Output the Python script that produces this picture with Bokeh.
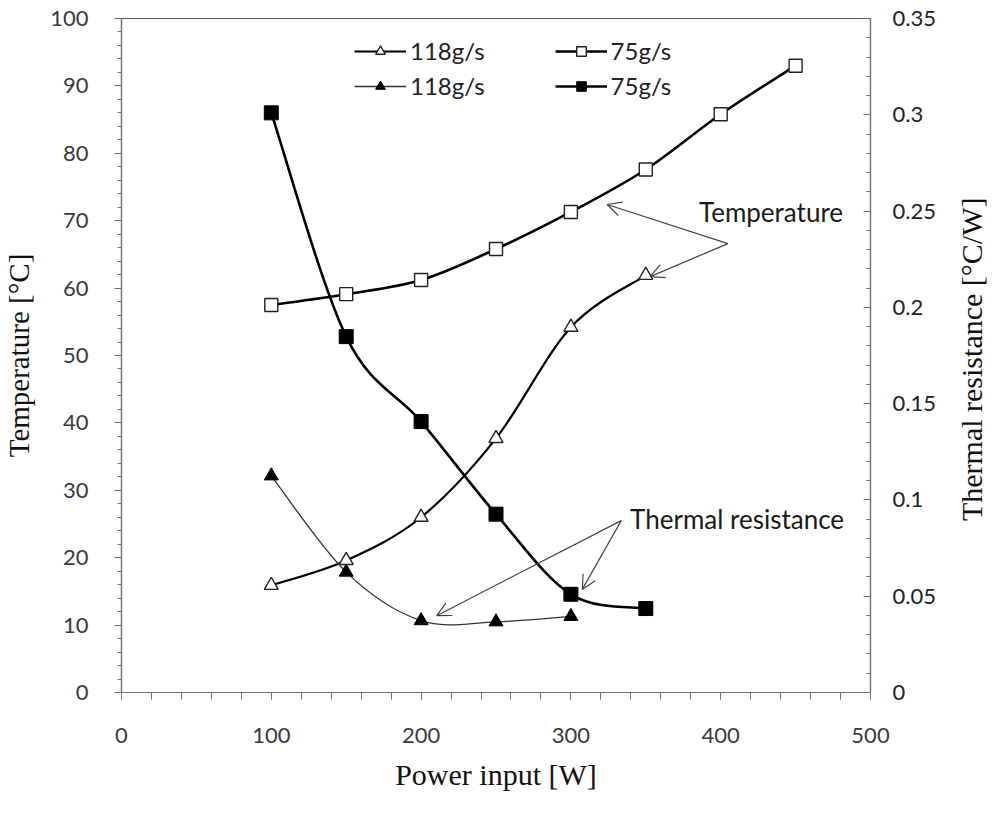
import math
from bokeh.plotting import figure
from bokeh.layouts import row
from bokeh.models import (Range1d, LinearAxis, FixedTicker, CustomJSTickFormatter,
                          Legend, LegendItem, Arrow, OpenHead, Label)
from bokeh.embed import file_html
from bokeh.resources import INLINE

# ---------------- data ----------------
power_t75 = [100, 150, 200, 250, 300, 350, 400, 450]
temp_75 = [57.5, 59.1, 61.2, 65.8, 71.3, 77.6, 85.8, 93.0]

power_t118 = [100, 150, 200, 250, 300, 350]
temp_118 = [15.9, 19.6, 26.0, 37.7, 54.2, 61.9]

power_r75 = [100, 150, 200, 250, 300, 350]
res_75 = [0.301, 0.1848, 0.1407, 0.0926, 0.0510, 0.0436]

power_r118 = [100, 150, 200, 250, 300]
res_118 = [0.1125, 0.0625, 0.0373, 0.0367, 0.0395]

x_ticks = [0, 100, 200, 300, 400, 500]
y_ticks = [0, 10, 20, 30, 40, 50, 60, 70, 80, 90, 100]
y2_ticks = [0, 0.05, 0.1, 0.15, 0.2, 0.25, 0.3, 0.35]

FONT = "Lato"
SERIF = "Liberation Serif"

MAIN_W, STRIP_W, H = 957, 30, 799


def smooth(xs, ys):
    """Bezier segments (Catmull-Rom style, like spreadsheet 'smoothed line')."""
    n = len(xs)
    d = dict(x0=[], y0=[], x1=[], y1=[], cx0=[], cy0=[], cx1=[], cy1=[])
    for i in range(n - 1):
        im = max(i - 1, 0)
        ip = min(i + 2, n - 1)
        d["x0"].append(xs[i]); d["y0"].append(ys[i])
        d["x1"].append(xs[i + 1]); d["y1"].append(ys[i + 1])
        d["cx0"].append(xs[i] + (xs[i + 1] - xs[im]) / 6.0)
        d["cy0"].append(ys[i] + (ys[i + 1] - ys[im]) / 6.0)
        d["cx1"].append(xs[i + 1] - (xs[ip] - xs[i]) / 6.0)
        d["cy1"].append(ys[i + 1] - (ys[ip] - ys[i]) / 6.0)
    return d


p = figure(width=MAIN_W, height=H, x_range=Range1d(0, 500), y_range=Range1d(0, 100),
           output_backend="svg", toolbar_location=None,
           min_border_left=119, min_border_right=MAIN_W - 870, min_border_top=18,
           min_border_bottom=107)
p.extra_y_ranges = {"res": Range1d(0, 0.35)}
p.xgrid.visible = False
p.ygrid.visible = False
p.outline_line_color = "#555555"
p.outline_line_width = 1.2
p.background_fill_color = "white"
p.border_fill_color = "white"

# axes
xa = p.xaxis[0]
xa.ticker = FixedTicker(ticks=x_ticks, minor_ticks=list(range(0, 501, 20)))
xa.axis_label = "Power input [W]"
ya = p.yaxis[0]
ya.ticker = FixedTicker(ticks=y_ticks, minor_ticks=list(range(0, 101, 2)))
ya.axis_label = "Temperature [°C]"

ra = LinearAxis(y_range_name="res")
ra.ticker = FixedTicker(ticks=y2_ticks, minor_ticks=[i / 100 for i in range(0, 36)])
ra.formatter = CustomJSTickFormatter(code="return (Math.round(tick*100)/100).toString();")
p.add_layout(ra, "right")

for ax in (xa, ya, ra):
    ax.axis_line_color = "#707070"
    ax.axis_line_width = 1.2
    ax.major_tick_line_color = "#707070"
    ax.minor_tick_line_color = "#707070"
    ax.major_label_text_font = FONT
    ax.major_label_text_font_size = "22px"
    ax.major_label_text_color = "#3a3a3a"
    ax.axis_label_text_font = SERIF
    ax.axis_label_text_font_size = "29px"
    ax.axis_label_text_font_style = "normal"
    ax.axis_label_text_color = "#111111"

xa.major_tick_in = 0; xa.major_tick_out = 7
xa.minor_tick_in = 0; xa.minor_tick_out = 7
xa.major_label_standoff = 28
xa.axis_label_standoff = 12
xa.axis_label_text_font_size = "30px"

ya.major_tick_in = 0; ya.major_tick_out = 7
ya.minor_tick_in = 0; ya.minor_tick_out = 4
ya.major_label_standoff = 26
ya.axis_label_standoff = 12

ra.major_tick_in = 7; ra.major_tick_out = 0
ra.minor_tick_in = 4; ra.minor_tick_out = 0
ra.major_label_standoff = 22
ra.major_label_text_color = "#222222"

# series
b_t118 = p.bezier(**smooth(power_t118, temp_118), line_color="black", line_width=2.2)
s_t118 = p.scatter(power_t118, temp_118, marker="triangle", size=14, fill_color="white",
                   line_color="#222222", line_width=1.4)
b_t75 = p.bezier(**smooth(power_t75, temp_75), line_color="black", line_width=2.6)
s_t75 = p.scatter(power_t75, temp_75, marker="square", size=13, fill_color="white",
                  line_color="#222222", line_width=1.4)
b_r118 = p.bezier(**smooth(power_r118, res_118), line_color="#333333", line_width=1.3,
                  y_range_name="res")
s_r118 = p.scatter(power_r118, res_118, marker="triangle", size=14, fill_color="black",
                   line_color="black", y_range_name="res")
b_r75 = p.bezier(**smooth(power_r75, res_75), line_color="black", line_width=2.6,
                 y_range_name="res")
s_r75 = p.scatter(power_r75, res_75, marker="square", size=14, fill_color="black",
                  line_color="black", y_range_name="res")

# legends (2 rows)
def make_legend(items, loc):
    lg = Legend(items=items, location=loc, orientation="horizontal")
    lg.background_fill_alpha = 0
    lg.border_line_alpha = 0
    lg.padding = 0
    lg.margin = 0
    lg.spacing = 70
    lg.glyph_width = 52
    lg.glyph_height = 24
    lg.label_height = 24
    lg.label_standoff = 4
    lg.label_text_font = FONT
    lg.label_text_font_size = "24px"
    lg.label_text_color = "#222222"
    return lg

lg1 = make_legend([LegendItem(label="118g/s", renderers=[b_t118, s_t118]),
                   LegendItem(label="75g/s", renderers=[b_t75, s_t75])], (233, 627))
lg2 = make_legend([LegendItem(label="118g/s", renderers=[b_r118, s_r118]),
                   LegendItem(label="75g/s", renderers=[b_r75, s_r75])], (233, 592))
p.add_layout(lg1, "center")
p.add_layout(lg2, "center")

# annotations
arrow_color = "#444444"
for (xs, ys, xe, ye) in [(404.8, 66.6, 324.2, 72.4), (404.8, 66.6, 352.9, 61.7),
                         (333.6, 25.5, 210.4, 11.4), (333.6, 25.5, 307.6, 15.3)]:
    p.add_layout(Arrow(end=OpenHead(size=14, line_color=arrow_color, line_width=1.2),
                       x_start=xs, y_start=ys, x_end=xe, y_end=ye,
                       line_color=arrow_color, line_width=1.2))

p.add_layout(Label(x=385.5, y=71.3, text="Temperature", text_font=FONT, text_font_size="26px",
                   text_baseline="middle", text_align="left", text_color="#1a1a1a"))
p.add_layout(Label(x=339.5, y=25.7, text="Thermal resistance", text_font=FONT,
                   text_font_size="26px", text_baseline="middle", text_align="left",
                   text_color="#1a1a1a"))

# narrow strip holding the right-hand axis title (reads bottom-to-top)
p2 = figure(width=STRIP_W, height=H, x_range=Range1d(0, STRIP_W), y_range=Range1d(0, H),
            output_backend="svg", toolbar_location=None, x_axis_type=None, y_axis_type=None,
            min_border=0, min_border_left=0, min_border_right=0, min_border_top=0,
            min_border_bottom=0)
p2.xgrid.visible = False
p2.ygrid.visible = False
p2.outline_line_color = None
p2.background_fill_color = "white"
p2.border_fill_color = "white"
p2.add_layout(Label(x=14, y=395, text="Thermal resistance [°C/W]", angle=math.pi / 2,
                    text_font=SERIF, text_font_size="30px", text_align="center",
                    text_baseline="middle", text_color="#111111"))

layout = row(p, p2, spacing=0)
open("out.html", "w").write(file_html(layout, INLINE))
